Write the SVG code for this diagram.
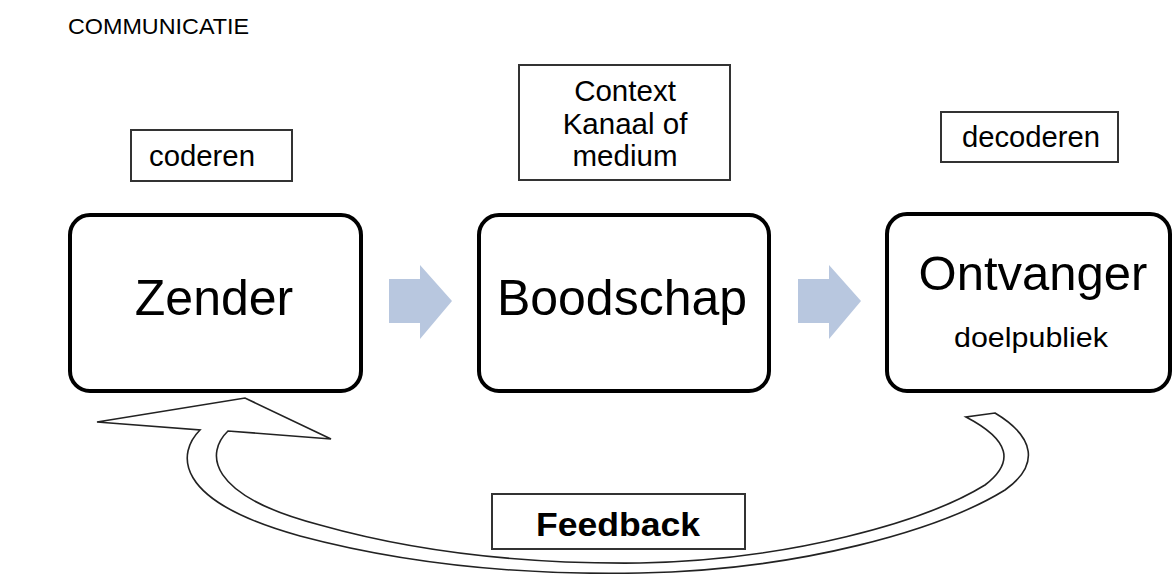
<svg xmlns="http://www.w3.org/2000/svg" width="1173" height="574" viewBox="0 0 1173 574">
<style>
text{font-family:"Liberation Sans",Arial,sans-serif;fill:#000;text-anchor:middle}
.main{fill:#fff;stroke:#000;stroke-width:4}
.lbl{fill:#fff;stroke:#333;stroke-width:2}
.arr{fill:#b8c7df}
.fb{fill:#fff;stroke:#222;stroke-width:1.6;stroke-linejoin:miter}
</style>
<rect width="1173" height="574" fill="#fff"/>
<text x="68" y="34" font-size="22.5" style="text-anchor:start" textLength="181" lengthAdjust="spacingAndGlyphs">COMMUNICATIE</text>
<g id="connectors">
<path class="fb" d="M228,431 C206,452 205,495 320,525 C430,556 540,564 640,563 C790,560 925,522 985,485 C1015,462 1010,440 966,417 L995,413 C1035,437 1040,465 1005,490 C940,530 800,570 640,573 C540,575 420,568 300,536 C170,500 178,452 200,430 L97,422 L245,398 L331,439 Z"/>
<polygon class="arr" points="389,279 420,279 420,265 452,301 420,339 420,323 389,323"/>
<polygon class="arr" points="798,279 829,279 829,265 861,301 829,339 829,323 798,323"/>
</g>
<g id="coderen">
<rect class="lbl" x="131" y="130" width="161" height="51"/>
<text x="202" y="166" font-size="29" textLength="106" lengthAdjust="spacingAndGlyphs">coderen</text>
</g>
<g id="context">
<rect class="lbl" x="519" y="65" width="211" height="115"/>
<text x="625" y="101" font-size="29.5">Context</text>
<text x="625" y="134" font-size="29.5">Kanaal of</text>
<text x="625" y="166" font-size="29.5">medium</text>
</g>
<g id="decoderen">
<rect class="lbl" x="941" y="112" width="177" height="50"/>
<text x="1031" y="147" font-size="29" textLength="138" lengthAdjust="spacingAndGlyphs">decoderen</text>
</g>
<g id="zender">
<rect class="main" x="70" y="215" width="291" height="176" rx="20"/>
<text x="214" y="315" font-size="50">Zender</text>
</g>
<g id="boodschap">
<rect class="main" x="479" y="215" width="290" height="176" rx="20"/>
<text x="622" y="315" font-size="50">Boodschap</text>
</g>
<g id="ontvanger">
<rect class="main" x="887" y="214" width="283" height="177" rx="20"/>
<text x="1033" y="290" font-size="49">Ontvanger</text>
<text x="1031" y="347" font-size="27" textLength="154" lengthAdjust="spacingAndGlyphs">doelpubliek</text>
</g>
<g id="feedback">
<rect class="lbl" x="492" y="494" width="253" height="55"/>
<text x="618" y="536" font-size="33" font-weight="bold" textLength="164" lengthAdjust="spacingAndGlyphs">Feedback</text>
</g>
</svg>
